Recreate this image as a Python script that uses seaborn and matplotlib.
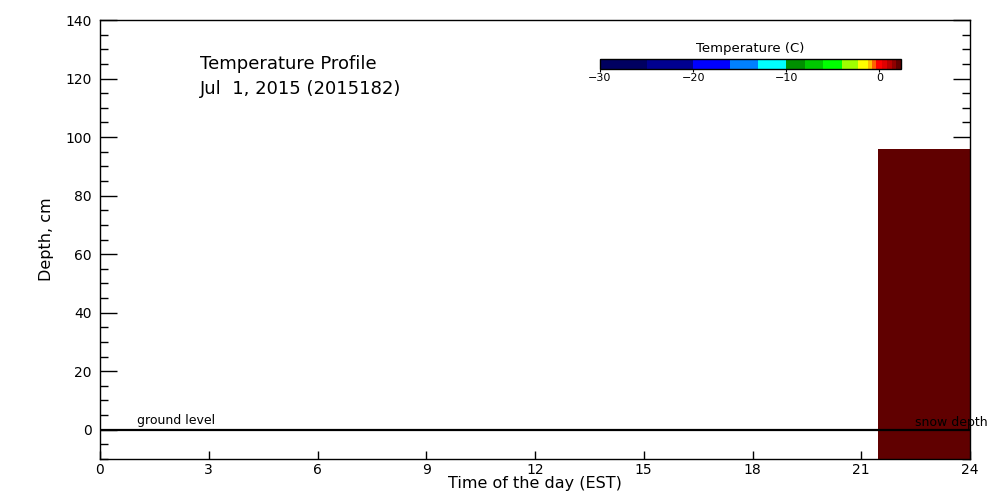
import numpy as np
import pandas as pd
import seaborn as sns
import matplotlib
matplotlib.use("Agg")
import matplotlib.pyplot as plt
from matplotlib.colors import ListedColormap, BoundaryNorm
from matplotlib.cm import ScalarMappable
from matplotlib.ticker import MultipleLocator

# ---- data ----
profile_start = [21.45]        # hour of day where profile column starts
profile_end = [24.0]           # hour of day where profile column ends
snow_depth_cm = [96.0]         # top of measured column, cm
profile_temp_c = [2.0]         # temperature of column, C

ground_x = [0, 24]
ground_depth = [0, 0]

temp_bounds = [-30, -25, -20, -16, -13, -10, -8, -6, -4, -2.3, -1.25, -0.8,
               -0.3, 0.25, 0.8, 1.35, 1.8, 2.3]
temp_colors = ["#000060", "#000090", "#0000ff", "#0080ff", "#00ffff",
               "#009000", "#00c800", "#00ff00", "#a0ff00", "#ffff00",
               "#ffc000", "#ff6000", "#ff0000", "#e00000", "#b80000",
               "#900000", "#600000"]
cbar_ticks = [-30, -20, -10, 0]
x_ticks = [0, 3, 6, 9, 12, 15, 18, 21, 24]

sns.set_style("white")
plt.rcParams['font.family'] = ['DejaVu Sans']
plt.rcParams.update({"text.color": "black", "axes.labelcolor": "black",
                     "xtick.color": "black", "ytick.color": "black"})

cmap = ListedColormap(temp_colors)
norm = BoundaryNorm(temp_bounds, cmap.N)

fig = plt.figure(figsize=(10, 5), dpi=100)
ax = fig.add_axes([0.10, 0.082, 0.87, 0.878])

df = pd.DataFrame({"start": profile_start, "end": profile_end,
                   "depth": snow_depth_cm, "temp": profile_temp_c})
ymin, ymax = -10, 140
for _, r in df.iterrows():
    ax.bar(r["start"], r["depth"] - ymin, width=r["end"] - r["start"],
           bottom=ymin, align="edge", color=cmap(norm(r["temp"])),
           edgecolor="none", zorder=1)

sns.lineplot(x=ground_x, y=ground_depth, ax=ax, color="black", lw=1.6, zorder=3)

ax.set_xlim(0, 24)
ax.set_ylim(ymin, ymax)
ax.set_xticks(x_ticks)
ax.yaxis.set_major_locator(MultipleLocator(20))
ax.yaxis.set_minor_locator(MultipleLocator(5))
ax.tick_params(axis="y", which="major", direction="in", length=12, width=1,
               left=True, right=True, labelsize=10, pad=6, color="black",
               labelcolor="black")
ax.tick_params(axis="y", which="minor", direction="in", length=6, width=1,
               left=True, right=True, color="black")
ax.tick_params(axis="x", which="major", direction="in", length=6, width=1,
               bottom=True, top=False, labelsize=10, pad=3, color="black",
               labelcolor="black")
for s in ax.spines.values():
    s.set_color("black")
    s.set_linewidth(1.0)
    s.set_visible(True)

ax.set_xlabel("Time of the day (EST)", fontsize=11.5, labelpad=-1, color="black")
ax.set_ylabel("Depth, cm", fontsize=11.5, labelpad=8, color="black")

ax.text(1.02, 1.0, "ground level", fontsize=9, ha="left", va="bottom",
        zorder=4, color="black")
ax.text(22.48, 0.3, "snow depth", fontsize=9, ha="left", va="bottom",
        zorder=4, clip_on=False, color="black")

ax.text(0.115, 0.90, "Temperature Profile", transform=ax.transAxes,
        fontsize=13, ha="left", va="center", color="black")
ax.text(0.115, 0.843, "Jul  1, 2015 (2015182)", transform=ax.transAxes,
        fontsize=13, ha="left", va="center", color="black")

cax = fig.add_axes([0.600, 0.862, 0.3007, 0.020])
sm = ScalarMappable(norm=norm, cmap=cmap)
cb = fig.colorbar(sm, cax=cax, orientation="horizontal", ticks=cbar_ticks,
                  spacing="proportional", drawedges=False)
cb.minorticks_off()
cb.outline.set_edgecolor("black")
cb.outline.set_linewidth(1.0)
cax.tick_params(direction="out", length=2, labelsize=8, pad=1, color="black",
                labelcolor="black")
cax.set_xticklabels(["\u221230", "\u221220", "\u221210", "0"])
cax.set_title("Temperature (C)", fontsize=9.5, pad=5, color="black")

fig.savefig("out.png", dpi=100)
